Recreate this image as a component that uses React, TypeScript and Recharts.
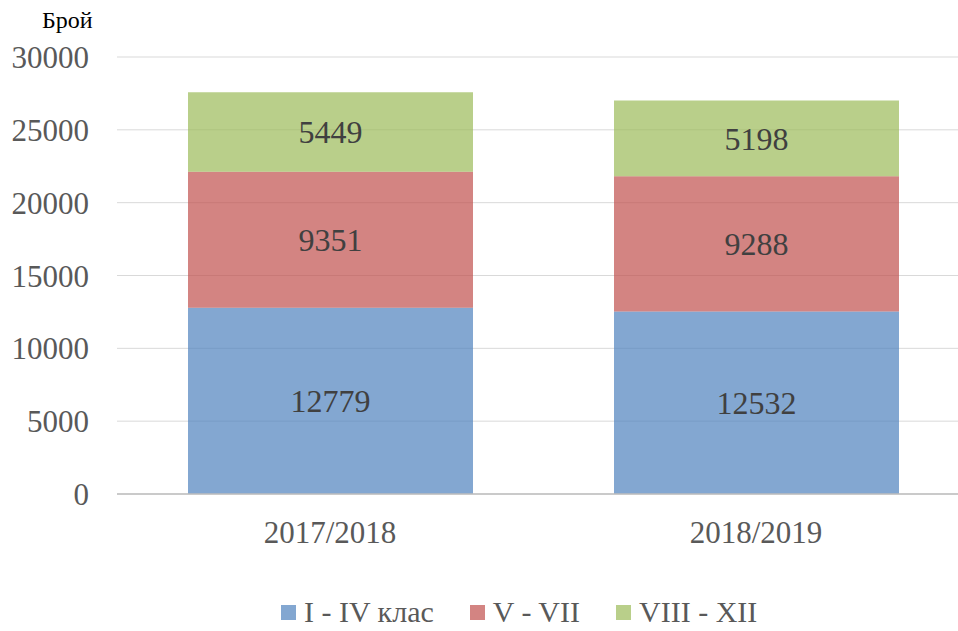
import React from 'react';
import { BarChart, Bar, XAxis, YAxis, CartesianGrid, Legend, LabelList } from 'recharts';

const categories = ['2017/2018', '2018/2019'];
const gradesI_IV = [12779, 12532];
const gradesV_VII = [9351, 9288];
const gradesVIII_XII = [5449, 5198];
const seriesNames = ['I - IV клас', 'V - VII', 'VIII - XII'];
const seriesColors = ['#4F81BD', '#C0504D', '#9BBB59'];
const yTicks = [0, 5000, 10000, 15000, 20000, 25000, 30000];
const yAxisTitle = 'Брой';

const data = categories.map((c, i) => ({
  name: c,
  s1: gradesI_IV[i],
  s2: gradesV_VII[i],
  s3: gradesVIII_XII[i],
}));

const FONT = 'Liberation Serif, Tinos, DejaVu Serif, serif';

const renderLegend = (props: any) => {
  const payload = props.payload || [];
  return (
    <div style={{ display: 'flex', alignItems: 'center', height: 26, paddingLeft: 281, fontFamily: FONT, fontSize: 30, lineHeight: '26px', color: '#595959' }}>
      {payload.map((p: any, i: number) => (
        <div key={i} style={{ display: 'flex', alignItems: 'center', marginRight: 36 }}>
          <span style={{ display: 'inline-block', width: 15, height: 15, background: p.color, opacity: 0.7, marginRight: 8 }} />
          <span style={{ whiteSpace: 'nowrap' }}>{p.value}</span>
        </div>
      ))}
    </div>
  );
};

const renderTitle = (props: any) => {
  const vb = props.viewBox || { x: 0, y: 57 };
  return (
    <text x={vb.x + 42} y={vb.y - 29} fill="#000" fontSize={24} style={{ fontFamily: FONT }}>
      {yAxisTitle}
    </text>
  );
};

export default function App() {
  return (
    <div style={{ position: 'fixed', left: 0, top: 0, width: 958, height: 631, overflow: 'hidden', background: '#fff', fontFamily: FONT }}>
      <BarChart
        width={980}
        height={631}
        data={data}
        margin={{ top: 57, right: 11, left: 0, bottom: 0 }}
        style={{ fontFamily: FONT }}
      >
        <CartesianGrid vertical={false} stroke="#d9d9d9" strokeWidth={1} />
        <XAxis
          dataKey="name"
          height={137}
          tickLine={false}
          tickSize={0}
          tickMargin={27}
          axisLine={{ stroke: '#bfbfbf', strokeWidth: 1.5 }}
          tick={{ fill: '#595959', fontSize: 31, style: { fontFamily: FONT } }}
        />
        <YAxis
          width={117}
          domain={[0, 30000]}
          ticks={yTicks}
          interval={0}
          axisLine={false}
          tickLine={false}
          tickSize={0}
          tickMargin={28}
          tick={{ fill: '#595959', fontSize: 31, style: { fontFamily: FONT } }}
          label={{ content: renderTitle }}
        />
        <Legend
          layout="horizontal"
          verticalAlign="middle"
          align="center"
          content={renderLegend}
          wrapperStyle={{ left: 0, top: 599, width: 958, height: 26 }}
        />
        <Bar dataKey="s1" name={seriesNames[0]} stackId="a" fill={seriesColors[0]} fillOpacity={0.7} barSize={285} isAnimationActive={false}>
          <LabelList dataKey="s1" position="center" fill="#404040" fontSize={32} style={{ fontFamily: FONT }} />
        </Bar>
        <Bar dataKey="s2" name={seriesNames[1]} stackId="a" fill={seriesColors[1]} fillOpacity={0.7} barSize={285} isAnimationActive={false}>
          <LabelList dataKey="s2" position="center" fill="#404040" fontSize={32} style={{ fontFamily: FONT }} />
        </Bar>
        <Bar dataKey="s3" name={seriesNames[2]} stackId="a" fill={seriesColors[2]} fillOpacity={0.7} barSize={285} isAnimationActive={false}>
          <LabelList dataKey="s3" position="center" fill="#404040" fontSize={32} style={{ fontFamily: FONT }} />
        </Bar>
      </BarChart>
    </div>
  );
}
